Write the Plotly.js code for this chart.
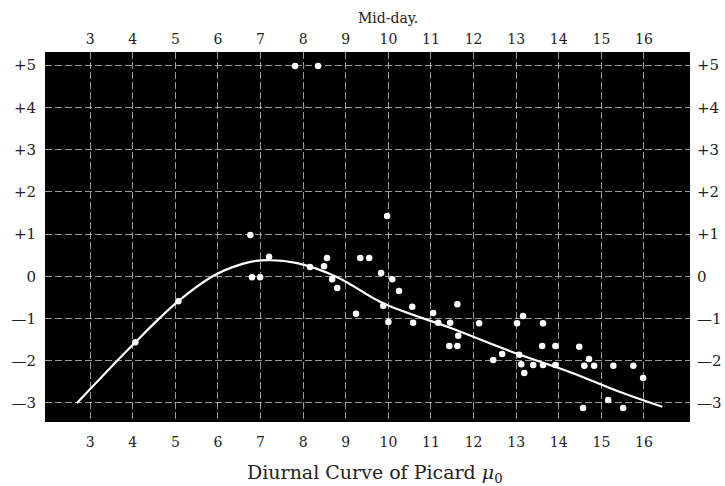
<!DOCTYPE html>
<html>
<head>
<meta charset="utf-8">
<script src="https://cdn.plot.ly/plotly-3.0.1.min.js"></script>
<style>html,body{margin:0;padding:0;background:#fff;}#chart{width:725px;height:486px;}</style>
</head>
<body>
<div id="chart"></div>
<script>
// Hours (x) and values (y)
const hourTicks = [3,4,5,6,7,8,9,10,11,12,13,14,15,16];
const hourLabels = ["3","4","5","6","7","8","9","10","11","12","13","14","15","16"];
const valueTicks = [5,4,3,2,1,0,-1,-2,-3];
const valueLabels = ["+5","+4","+3","+2","+1","0","—1","—2","—3"];

// Observed points
const obsX = [7.81, 8.35,
  4.06, 5.07,
  6.76, 7.2, 6.80, 6.99, 8.16, 8.56, 8.49, 8.68, 8.8, 9.34, 9.55, 9.24,
  9.97, 9.83, 10.09, 10.25, 9.88, 10.0, 10.56, 10.58, 11.05, 11.17, 11.45, 11.62, 11.43, 11.62, 11.64,
  12.13, 13.02, 13.16, 13.63, 12.46, 12.67, 13.07, 13.12, 13.19, 13.40, 13.61, 13.63, 13.92, 13.92,
  14.48, 14.71, 14.6, 14.83, 15.28, 15.75, 15.98, 15.16, 14.57, 15.51];
const obsY = [4.98, 4.98,
  -1.56, -0.59,
  0.98, 0.46, -0.02, -0.02, 0.22, 0.43, 0.24, -0.07, -0.28, 0.43, 0.43, -0.89,
  1.43, 0.08, -0.07, -0.35, -0.70, -1.08, -0.72, -1.1, -0.87, -1.1, -1.1, -0.66, -1.65, -1.65, -1.41,
  -1.11, -1.11, -0.94, -1.11, -1.98, -1.84, -1.86, -2.08, -2.29, -2.10, -1.65, -2.10, -1.65, -2.1,
  -1.67, -1.96, -2.12, -2.12, -2.12, -2.12, -2.41, -2.93, -3.12, -3.12];

// Smooth curve drawn through
const curveX = [2.69, 4.06, 5.07, 5.93, 6.76, 7.23, 7.86, 8.8, 9.88, 11.45, 13.09, 14.27, 15.44, 16.43];
const curveY = [-3.0, -1.56, -0.59, 0.03, 0.34, 0.38, 0.31, -0.02, -0.64, -1.22, -1.86, -2.27, -2.74, -3.09];

const xr = [1.94, 17.08];
const yr = [-3.45, 5.31];
const serif = "'DejaVu Serif', 'Liberation Serif', serif";

const traces = [
  {x: curveX, y: curveY, mode: 'lines', line: {color: '#fff', width: 2.2, shape: 'spline', smoothing: 1}, hoverinfo: 'skip', showlegend: false},
  {x: obsX, y: obsY, mode: 'markers', marker: {color: '#fff', size: 6.5}, hoverinfo: 'skip', showlegend: false},
  {x: curveX, y: curveY, xaxis: 'x2', yaxis: 'y2', mode: 'lines', line: {color: 'rgba(0,0,0,0)', width: 0}, hoverinfo: 'skip', showlegend: false}
];

const gridStyle = {gridcolor: 'rgba(255,255,255,0.6)', gridwidth: 1, griddash: '7px,3px', zeroline: false, showline: false, ticks: ''};

const layout = {
  width: 725, height: 486,
  margin: {l: 45, r: 35, t: 52, b: 64},
  paper_bgcolor: '#fff', plot_bgcolor: '#000',
  font: {family: serif, color: '#222', size: 14},
  xaxis: Object.assign({range: xr, tickmode: 'array', tickvals: hourTicks, ticktext: hourLabels, ticklabelstandoff: 10, tickfont: {family: serif, size: 14, color: '#222'}}, gridStyle),
  yaxis: Object.assign({range: yr, tickmode: 'array', tickvals: valueTicks, ticktext: valueLabels, ticklabelstandoff: 8, tickfont: {family: serif, size: 15, color: '#222'}}, gridStyle),
  xaxis2: {range: xr, overlaying: 'x', side: 'top', anchor: 'y', tickmode: 'array', tickvals: hourTicks, ticktext: hourLabels, showgrid: false, zeroline: false, ticks: '', ticklabelstandoff: 4, tickfont: {family: serif, size: 14, color: '#222'}},
  yaxis2: {range: yr, overlaying: 'y', side: 'right', anchor: 'x', tickmode: 'array', tickvals: valueTicks, ticktext: valueLabels, showgrid: false, zeroline: false, ticks: '', ticklabelstandoff: 6, tickfont: {family: serif, size: 15, color: '#222'}},
  annotations: [
    {text: 'Mid-day.', x: 10, xref: 'x', y: 1.092, yref: 'paper', showarrow: false, yanchor: 'middle', font: {family: serif, size: 14, color: '#222'}},
    {text: 'Diurnal Curve of Picard <i>μ</i><sub>0</sub>', x: 0.512, xref: 'paper', y: -0.138, yref: 'paper', showarrow: false, yanchor: 'middle', font: {family: serif, size: 19, color: '#222'}}
  ]
};

Plotly.newPlot('chart', traces, layout, {displayModeBar: false, staticPlot: true});
</script>
</body>
</html>
